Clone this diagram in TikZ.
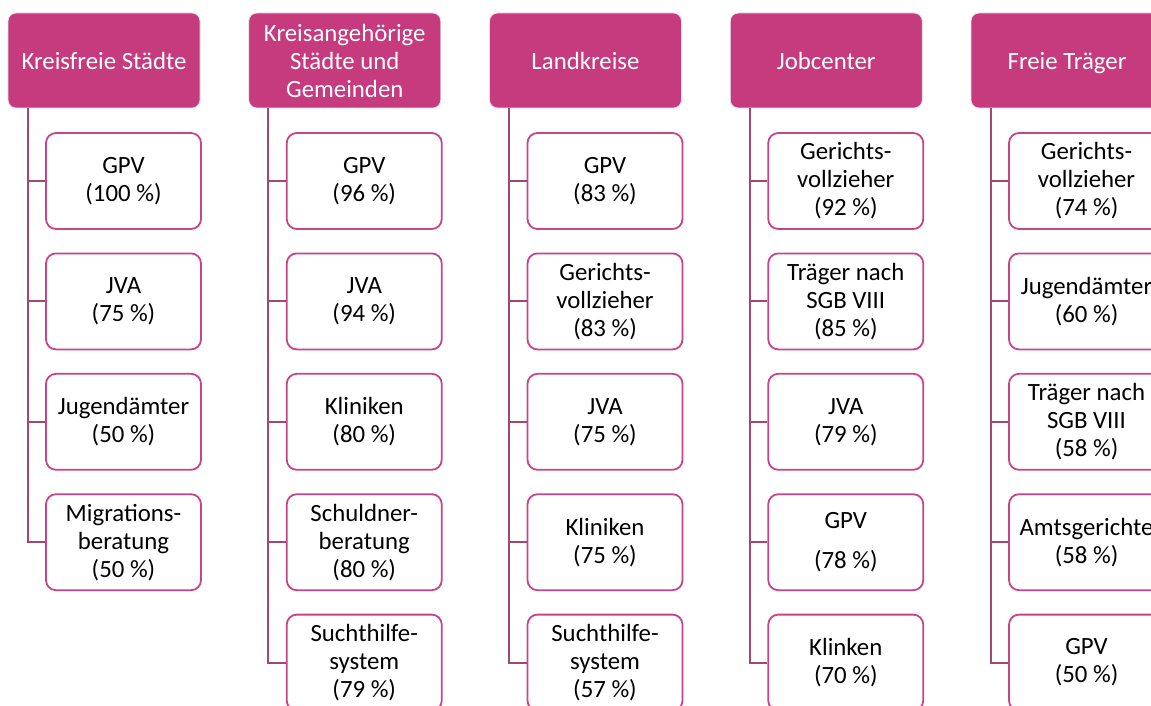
\documentclass[tikz,border=0pt]{standalone}
\usepackage{fontspec}
\setmainfont{Carlito}
\definecolor{orgmagenta}{RGB}{198,58,126}
\definecolor{orgrim}{RGB}{201,68,132}
\definecolor{orgline}{RGB}{163,70,112}
\tikzset{
  orghead/.style={rectangle, rounded corners=4pt, draw=black!10, line width=0.4pt,
                  fill=orgmagenta, text=white, minimum width=96pt,
                  minimum height=47.5pt, align=center, inner sep=2pt,
                  font=\fontsize{12.4}{14}\selectfont},
  orgitem/.style={rectangle, rounded corners=5pt, draw=orgrim, line width=0.9pt,
                  fill=white, minimum width=77.5pt, minimum height=48pt,
                  align=center, inner sep=1pt,
                  font=\fontsize{12.4}{14}\selectfont},
  orglink/.style={draw=orgline, line width=1pt}
}

\begin{document}
\begin{tikzpicture}[x=0.5pt, y=-0.5pt]
  % Page in pixel units of the reference; the fifth column runs off the edge.
  \useasboundingbox (0,0) rectangle (1151,706);
  \clip (0,0) rectangle (1151,706);
  % Headers, one per kind of body.
  \node[orghead] (h1) at (104,60.5)    {Kreisfreie Städte};
  \node[orghead] (h2) at (344.75,60.5) {Kreisangehörige\\Städte und\\Gemeinden};
  \node[orghead] (h3) at (585.5,60.5)  {Landkreise};
  \node[orghead] (h4) at (826.25,60.5) {Jobcenter};
  \node[orghead, text depth=0pt] (h5) at (1067,60.5) {Freie Träger};
  % Partners, stacked below each header.
  \foreach \txt [count=\j] in {{GPV\\(100 \%)}, {JVA\\(75 \%)},
      {Jugendämter\\(50 \%)}, {Migrations-\\beratung\\(50 \%)}}
    \node[orgitem] (c1\j) at (123.5, {181 + 120.4*(\j-1)}) {\txt};
  \foreach \txt [count=\j] in {{GPV\\(96 \%)}, {JVA\\(94 \%)},
      {Kliniken\\(80 \%)}, {Schuldner-\\beratung\\(80 \%)},
      {Suchthilfe-\\system\\(79 \%)}}
    \node[orgitem] (c2\j) at (364.25, {181 + 120.4*(\j-1)}) {\txt};
  \foreach \txt [count=\j] in {{GPV\\(83 \%)}, {Gerichts-\\vollzieher\\(83 \%)},
      {JVA\\(75 \%)}, {Kliniken\\(75 \%)}, {Suchthilfe-\\system\\(57 \%)}}
    \node[orgitem] (c3\j) at (605, {181 + 120.4*(\j-1)}) {\txt};
  \foreach \txt [count=\j] in {{Gerichts-\\vollzieher\\(92 \%)},
      {Träger nach\\SGB VIII\\(85 \%)}, {JVA\\(79 \%)},
      {GPV\\[6pt](78 \%)}, {Klinken\\(70 \%)}}
    \node[orgitem] (c4\j) at (845.75, {181 + 120.4*(\j-1)}) {\txt};
  \foreach \txt [count=\j] in {{Gerichts-\\vollzieher\\(74 \%)},
      {Jugendämter\\(60 \%)}, {Träger nach\\SGB VIII\\(58 \%)},
      {Amtsgerichte\\(58 \%)}, {GPV\\(50 \%)}}
    \node[orgitem] (c5\j) at (1086.5, {181 + 120.4*(\j-1)}) {\txt};
  % Spine down from each header, a tick to every box.
  \foreach \c/\n in {1/4, 2/5, 3/5, 4/5, 5/5} {
    \coordinate (s\c) at ([xshift=10pt]h\c.south west);
    \draw[orglink] (s\c) |- (c\c\n.west);
    \foreach \j in {1,...,\n}
      \draw[orglink] (s\c |- c\c\j.west) -- (c\c\j.west);
  }
\end{tikzpicture}
\end{document}
